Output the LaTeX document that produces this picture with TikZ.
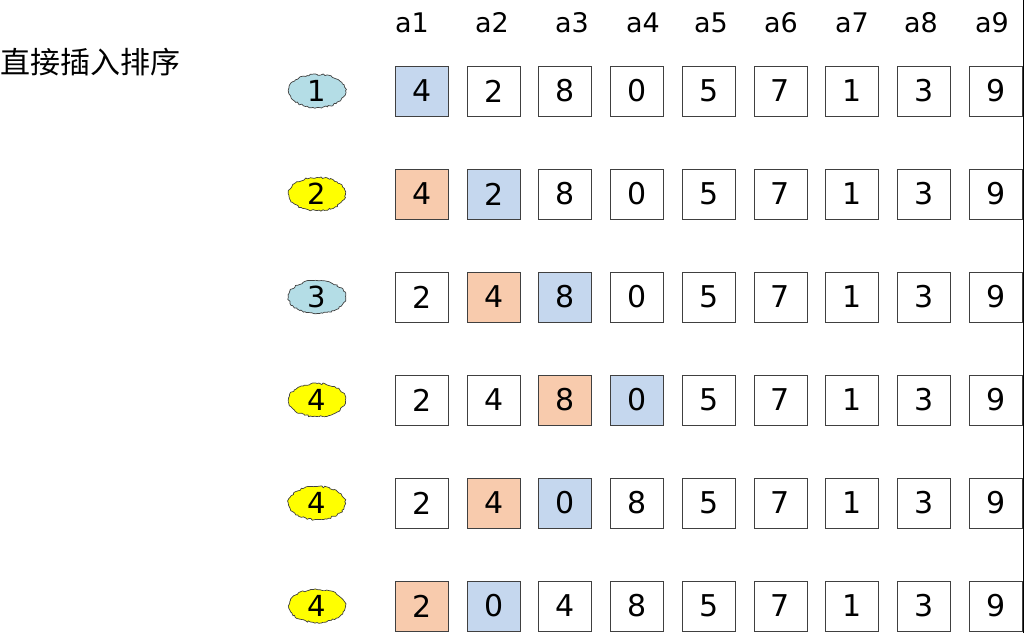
\documentclass[tikz,border=0pt]{standalone}
\usepackage{fontspec}
\setmainfont{DejaVu Sans}
\newfontfamily\cjkfont{Noto Sans CJK SC}
\usetikzlibrary{shapes.geometric,decorations.pathmorphing}
\definecolor{cellblue}{RGB}{197,215,238}
\definecolor{cellorange}{RGB}{248,203,173}
\definecolor{cloudblue}{RGB}{180,221,230}
\definecolor{cloudyellow}{RGB}{255,255,0}
\definecolor{edgegray}{RGB}{64,64,64}
\tikzset{
  cell/.style={draw=edgegray, line width=1pt, minimum width=53pt, minimum height=50pt, inner sep=0pt, font=\fontsize{30}{36}\selectfont},
  keycell/.style={cell, fill=cellblue},
  sortcell/.style={cell, fill=cellorange},
  passmark/.style={ellipse, draw=edgegray, line width=0.7pt, minimum width=57pt, minimum height=33pt, inner sep=0pt, font=\fontsize{29}{34}\selectfont, decorate, decoration={random steps, segment length=2pt, amplitude=0.9pt}},
  colhead/.style={inner sep=0pt, font=\fontsize{27}{32}\selectfont}
}
\begin{document}
\begin{tikzpicture}[x=1pt,y=-1pt]
        \useasboundingbox (0,0) rectangle (1025,633);

        % Title and the column heads
        \node[anchor=west, inner sep=0pt, font=\fontsize{30}{36}\selectfont] (title) at (0,62) {\cjkfont 直接插入排序};
        \node[colhead] (h1) at (412,23) {a1};
        \node[colhead] (h2) at (492,23) {a2};
        \node[colhead] (h3) at (572,23) {a3};
        \node[colhead] (h4) at (643,23) {a4};
        \node[colhead] (h5) at (711,23) {a5};
        \node[colhead] (h6) at (781,23) {a6};
        \node[colhead] (h7) at (852,23) {a7};
        \node[colhead] (h8) at (921,23) {a8};
        \node[colhead] (h9) at (992,23) {a9};

        % Row 1
        \node[passmark, fill=cloudblue] (p1) at (317,91) {1};
        \node[keycell] (r1a1) at (422,91) {4};
        \node[cell] (r1a2) at (493.7,91) {2};
        \node[cell] (r1a3) at (565.4,91) {8};
        \node[cell] (r1a4) at (637.1,91) {0};
        \node[cell] (r1a5) at (708.8,91) {5};
        \node[cell] (r1a6) at (780.5,91) {7};
        \node[cell] (r1a7) at (852.2,91) {1};
        \node[cell] (r1a8) at (923.9,91) {3};
        \node[cell] (r1a9) at (995.6,91) {9};

        % Row 2
        \node[passmark, fill=cloudyellow] (p2) at (317,194) {2};
        \node[sortcell] (r2a1) at (422,194) {4};
        \node[keycell] (r2a2) at (493.7,194) {2};
        \node[cell] (r2a3) at (565.4,194) {8};
        \node[cell] (r2a4) at (637.1,194) {0};
        \node[cell] (r2a5) at (708.8,194) {5};
        \node[cell] (r2a6) at (780.5,194) {7};
        \node[cell] (r2a7) at (852.2,194) {1};
        \node[cell] (r2a8) at (923.9,194) {3};
        \node[cell] (r2a9) at (995.6,194) {9};

        % Row 3
        \node[passmark, fill=cloudblue] (p3) at (317,297) {3};
        \node[cell] (r3a1) at (422,297) {2};
        \node[sortcell] (r3a2) at (493.7,297) {4};
        \node[keycell] (r3a3) at (565.4,297) {8};
        \node[cell] (r3a4) at (637.1,297) {0};
        \node[cell] (r3a5) at (708.8,297) {5};
        \node[cell] (r3a6) at (780.5,297) {7};
        \node[cell] (r3a7) at (852.2,297) {1};
        \node[cell] (r3a8) at (923.9,297) {3};
        \node[cell] (r3a9) at (995.6,297) {9};

        % Row 4
        \node[passmark, fill=cloudyellow] (p4) at (317,400) {4};
        \node[cell] (r4a1) at (422,400) {2};
        \node[cell] (r4a2) at (493.7,400) {4};
        \node[sortcell] (r4a3) at (565.4,400) {8};
        \node[keycell] (r4a4) at (637.1,400) {0};
        \node[cell] (r4a5) at (708.8,400) {5};
        \node[cell] (r4a6) at (780.5,400) {7};
        \node[cell] (r4a7) at (852.2,400) {1};
        \node[cell] (r4a8) at (923.9,400) {3};
        \node[cell] (r4a9) at (995.6,400) {9};

        % Row 5
        \node[passmark, fill=cloudyellow] (p5) at (317,503) {4};
        \node[cell] (r5a1) at (422,503) {2};
        \node[sortcell] (r5a2) at (493.7,503) {4};
        \node[keycell] (r5a3) at (565.4,503) {0};
        \node[cell] (r5a4) at (637.1,503) {8};
        \node[cell] (r5a5) at (708.8,503) {5};
        \node[cell] (r5a6) at (780.5,503) {7};
        \node[cell] (r5a7) at (852.2,503) {1};
        \node[cell] (r5a8) at (923.9,503) {3};
        \node[cell] (r5a9) at (995.6,503) {9};

        % Row 6
        \node[passmark, fill=cloudyellow] (p6) at (317,606) {4};
        \node[sortcell] (r6a1) at (422,606) {2};
        \node[keycell] (r6a2) at (493.7,606) {0};
        \node[cell] (r6a3) at (565.4,606) {4};
        \node[cell] (r6a4) at (637.1,606) {8};
        \node[cell] (r6a5) at (708.8,606) {5};
        \node[cell] (r6a6) at (780.5,606) {7};
        \node[cell] (r6a7) at (852.2,606) {1};
        \node[cell] (r6a8) at (923.9,606) {3};
        \node[cell] (r6a9) at (995.6,606) {9};

        % Right border
        \draw[line width=1pt] (1023.5,0) -- (1023.5,633);
    \end{tikzpicture}
\end{document}
